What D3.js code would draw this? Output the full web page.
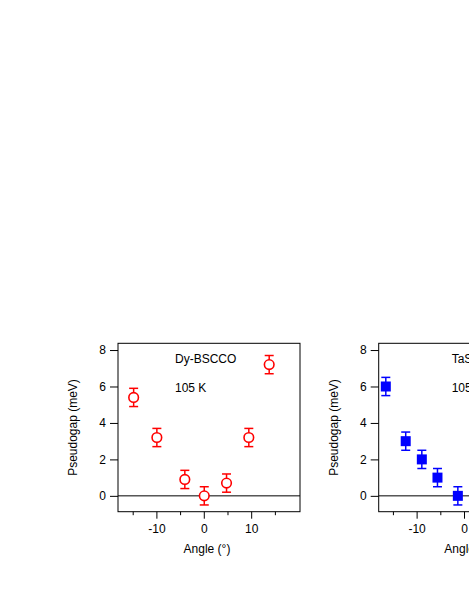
<!DOCTYPE html>
<html lang="en">
<head>
<meta charset="UTF-8">
<title>Pseudogap vs angle</title>
<script src="https://d3js.org/d3.v7.min.js"></script>
<style>
  body { margin: 0; background: #fff; }
  svg { display: block; font-family: "Liberation Sans", Arial, sans-serif; }
</style>
</head>
<body>
<svg id="chart" width="469" height="607"></svg>
<script>
// Dy-BSCCO, 105 K (open red circles)
const dyAngle = [-14.8, -9.9, -4.0, 0.1, 4.8, 9.5, 13.8];
const dyGap   = [5.4, 3.2, 0.9, 0.0, 0.7, 3.2, 7.2];
const dyErr   = [0.5, 0.5, 0.5, 0.5, 0.5, 0.5, 0.5];

// TaS2 panel (filled blue squares) - only the visible part
const taAngle = [-16.5, -12.3, -8.9, -5.6, -1.3];
const taGap   = [6.0, 3.0, 2.0, 1.0, 0.0];
const taErr   = [0.5, 0.5, 0.5, 0.5, 0.5];

const yTicks = [0, 2, 4, 6, 8];
const xMajor = [-10, 0, 10];
const xMinor = [-15, -5, 5, 15];

const svg = d3.select("#chart");

function panel(opts) {
  const { left, top, width, height, xDomain, labelX, label1, label2, angle, gap, err, color, marker } = opts;
  const g = svg.append("g").attr("transform", `translate(${left},${top})`);
  const x = d3.scaleLinear().domain(xDomain).range([0, width]);
  const y = d3.scaleLinear().domain([-0.87, 8.37]).range([height, 0]);

  // zero line
  g.append("line").attr("x1", 0).attr("x2", width)
    .attr("y1", y(0)).attr("y2", y(0)).attr("stroke", "#000").attr("stroke-width", 1);

  // y axis
  const ya = g.append("g").call(d3.axisLeft(y).tickValues(yTicks).tickSize(8).tickPadding(4).tickFormat(d => String(d)));
  ya.select(".domain").remove();
  ya.selectAll("text").attr("font-size", 12).attr("fill", "#000");

  // x axis major + minor
  const xa = g.append("g").attr("transform", `translate(0,${height})`)
    .call(d3.axisBottom(x).tickValues(xMajor).tickSize(7).tickPadding(6).tickFormat(d => String(d)));
  xa.select(".domain").remove();
  xa.selectAll("text").attr("font-size", 12).attr("fill", "#000");
  const xm = g.append("g").attr("transform", `translate(0,${height})`)
    .call(d3.axisBottom(x).tickValues(xMinor).tickSize(3.5).tickFormat(""));
  xm.select(".domain").remove();

  // frame
  g.append("rect").attr("width", width).attr("height", height)
    .attr("fill", "none").attr("stroke", "#000").attr("stroke-width", 1);

  // axis titles
  g.append("text").attr("x", width / 2 - 2).attr("y", height + 41)
    .attr("text-anchor", "middle").attr("font-size", 12).text("Angle (°)");
  g.append("text").attr("transform", `translate(${-41},${height / 2}) rotate(-90)`)
    .attr("text-anchor", "middle").attr("font-size", 12).text("Pseudogap (meV)");

  // annotations
  g.append("text").attr("x", labelX).attr("y", 20).attr("font-size", 12).text(label1);
  g.append("text").attr("x", labelX).attr("y", 48.5).attr("font-size", 12).text(label2);

  const pts = angle.map((a, i) => ({ a, v: gap[i], e: err[i] }));
  const eb = g.append("g").attr("stroke", color).attr("stroke-width", 1.5).attr("fill", "none");
  pts.forEach(d => {
    const cx = x(d.a), y1 = y(d.v + d.e), y2 = y(d.v - d.e);
    eb.append("line").attr("x1", cx).attr("x2", cx).attr("y1", y1).attr("y2", y2);
    eb.append("line").attr("x1", cx - 4.5).attr("x2", cx + 4.5).attr("y1", y1).attr("y2", y1);
    eb.append("line").attr("x1", cx - 4.5).attr("x2", cx + 4.5).attr("y1", y2).attr("y2", y2);
  });

  if (marker === "circle") {
    g.selectAll("circle.pt").data(pts).enter().append("circle")
      .attr("class", "pt")
      .attr("cx", d => x(d.a)).attr("cy", d => y(d.v)).attr("r", 4.8)
      .attr("fill", "#fff").attr("stroke", color).attr("stroke-width", 1.6);
  } else {
    g.selectAll("rect.pt").data(pts).enter().append("rect")
      .attr("class", "pt")
      .attr("x", d => x(d.a) - 5).attr("y", d => y(d.v) - 5)
      .attr("width", 10).attr("height", 10).attr("fill", color);
  }
}

panel({ left: 118, top: 343.3, width: 182, height: 168.4, xDomain: [-18.1, 20.3], labelX: 57,
  label1: "Dy-BSCCO", label2: "105 K", angle: dyAngle, gap: dyGap, err: dyErr,
  color: "#ff0000", marker: "circle" });

panel({ left: 378.7, top: 343.3, width: 182, height: 168.4, xDomain: [-18.0, 20.4], labelX: 73,
  label1: "TaS\u2082", label2: "105 K", angle: taAngle, gap: taGap, err: taErr,
  color: "#0000ff", marker: "square" });
</script>
</body>
</html>
